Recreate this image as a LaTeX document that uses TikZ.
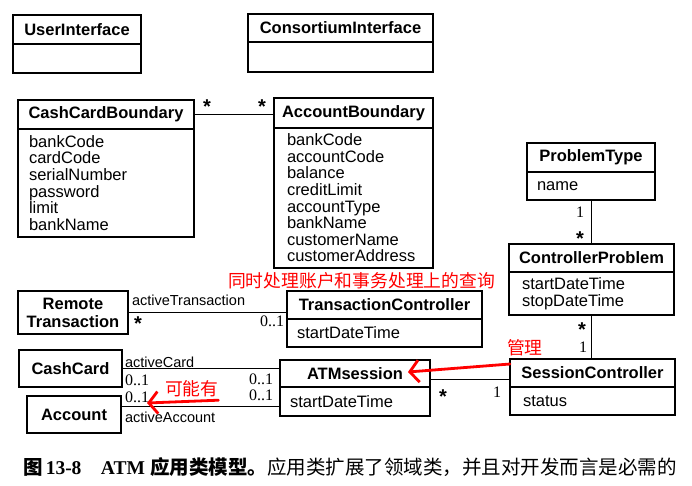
\documentclass[tikz,border=0pt]{standalone}
\usepackage{fontspec}
\setmainfont{Liberation Sans}
\newfontfamily\numfont{Liberation Serif}
\newfontfamily\cjk{Noto Sans CJK SC}
\usetikzlibrary{arrows.meta, positioning, calc}

\begin{document}
\begin{tikzpicture}[
  x=1pt, y=-1pt,
  every node/.style={inner sep=0pt, outer sep=0pt},
  head/.style={draw, line width=1.1pt, anchor=north west, align=center,
               font=\fontsize{16.5}{18}\selectfont\bfseries},
  body/.style={draw, line width=1.1pt, anchor=north west, align=left,
               inner xsep=11pt, font=\fontsize{16.5}{16.6}\selectfont},
  assoc/.style={line width=0.9pt},
  role/.style={font=\fontsize{14.5}{15}\selectfont},
  mult/.style={font=\numfont\fontsize{16}{16}\selectfont},
  many/.style={font=\fontsize{20}{20}\selectfont\bfseries},
  note/.style={font=\cjk\fontsize{17.8}{18}\selectfont, text=red},
  redarr/.style={red, line width=2.8pt, line cap=round, line join=round,
                 -{Straight Barb[length=9pt, width=22pt]}},
]
  \fill[white] (0,0) rectangle (692,486);

  % interface classes
  \node[head, minimum width=128, minimum height=29] (uiH) at (13,15) {UserInterface};
  \node[body, minimum width=128, minimum height=29, text width=106pt] (uiB) at (uiH.south west) {};
  \node[head, minimum width=185, minimum height=28] (ciH) at (248,14) {ConsortiumInterface};
  \node[body, minimum width=185, minimum height=30, text width=163pt] (ciB) at (ciH.south west) {};

  % boundary classes
  \node[head, minimum width=176, minimum height=29] (ccbH) at (18,100) {CashCardBoundary};
  \node[body, minimum width=176, minimum height=108, text width=154pt] (ccbB) at (ccbH.south west)
    {bankCode\\cardCode\\serialNumber\\password\\limit\\bankName};
  \node[head, minimum width=159, minimum height=30] (abH) at (274,98) {AccountBoundary};
  \node[body, minimum width=159, minimum height=140, text width=133pt, inner xsep=13pt] (abB) at (abH.south west)
    {bankCode\\accountCode\\balance\\creditLimit\\accountType\\bankName\\customerName\\customerAddress};

  % problem classes
  \node[head, minimum width=128, minimum height=29] (ptH) at (527,143) {ProblemType};
  \node[body, minimum width=128, minimum height=28, text width=108pt, inner xsep=10pt] (ptB) at (ptH.south west) {name};
  \node[head, minimum width=165, minimum height=28] (cpH) at (509,244) {ControllerProblem};
  \node[body, minimum width=165, minimum height=43, text width=139pt, inner xsep=13pt] (cpB) at (cpH.south west)
    {startDateTime\\stopDateTime};

  % controllers and session
  \node[head, minimum width=110, minimum height=43] (rt) at (18,291) {Remote\\Transaction};
  \node[head, minimum width=195, minimum height=28] (tcH) at (287,291) {TransactionController};
  \node[body, minimum width=195, minimum height=28, text width=175pt, inner xsep=10pt] (tcB) at (tcH.south west) {startDateTime};
  \node[head, minimum width=103, minimum height=37] (cc) at (19,350) {CashCard};
  \node[head, minimum width=94, minimum height=37] (ac) at (27,396) {Account};
  \node[head, minimum width=150, minimum height=27] (atH) at (280,360) {ATMsession};
  \node[body, minimum width=150, minimum height=29, text width=130pt, inner xsep=10pt] (atB) at (atH.south west) {startDateTime};
  \node[head, minimum width=165, minimum height=28] (scH) at (510,359) {SessionController};
  \node[body, minimum width=165, minimum height=28, text width=139pt, inner xsep=13pt] (scB) at (scH.south west) {status};

  % associations
  \draw[assoc] (ccbH.east) -- (ccbH.east -| abH.west);
  \node[many] (m1) at (207,107) {*};
  \node[many] (m2) at (262,107) {*};

  \draw[assoc] (ptB.south) -- (ptB.south |- cpH.north);
  \node[mult] (m3) at (580,212) {1};
  \node[many] (m4) at (580,239) {*};
  \draw[assoc] (cpB.south) -- (cpB.south |- scH.north);
  \node[many] (m5) at (582,330) {*};
  \node[mult] (m6) at (583,347) {1};

  \draw[assoc] (rt.east) -- (rt.east -| tcH.west);
  \node[role, anchor=west] (r1) at (132,300) {activeTransaction};
  \node[many] (m7) at (138,324) {*};
  \node[mult] (m8) at (272,321) {0..1};

  \draw[assoc] (cc.east) -- (cc.east -| atH.west);
  \node[role, anchor=west] (r2) at (125,362) {activeCard};
  \node[mult] (m9) at (137,380) {0..1};
  \node[mult] (m10) at (261,379) {0..1};

  \draw[assoc] ([yshift=8pt]ac.east) -- ([yshift=8pt]ac.east -| atB.west);
  \node[mult] (m11) at (137,397) {0..1};
  \node[mult] (m12) at (261,395) {0..1};
  \node[role, anchor=west] (r3) at (125,417) {activeAccount};

  \draw[assoc] ([yshift=-5.5pt]atH.east) -- ([yshift=-5.5pt]atH.east -| scH.west);
  \node[many] (m13) at (443,397) {*};
  \node[mult] (m14) at (497,392) {1};

  % red notes
  \node[note, anchor=west] (qNote) at (228,281) {同时处理账户和事务处理上的查询};
  \node[note, anchor=west] (mgNote) at (507,348) {管理};
  \node[note, anchor=west] (knNote) at (165,389) {可能有};
  \coordinate (mgTip) at (408,372);
  \coordinate (knTip) at (147,403);
  \draw[redarr] ($(scH.north west)+(0,5)$) -- (mgTip);
  \draw[redarr] ($(knNote.south east)+(0,3)$) -- (knTip);

  % caption
  \node[anchor=west, font=\fontsize{19.5}{20}\selectfont] (cap) at (23,467)
    {{\cjk\bfseries 图}\,{\numfont\bfseries 13-8}\quad{\numfont\bfseries ATM} {\cjk\bfseries 应用类模型。}{\cjk 应用类扩展了领域类，并且对开发而言是必需的}};
\end{tikzpicture}
\end{document}
